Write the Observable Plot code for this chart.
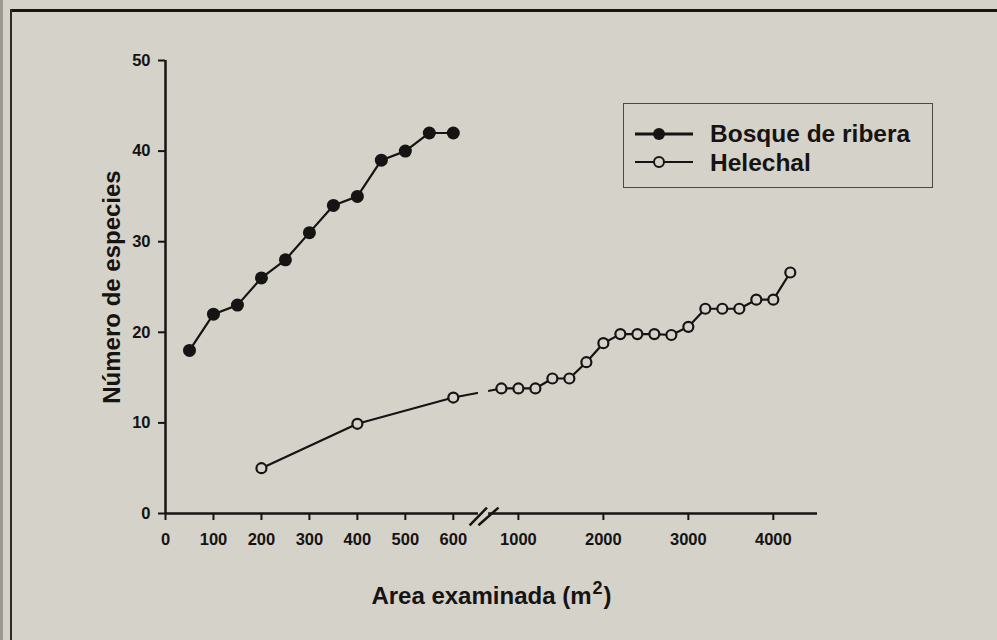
<!DOCTYPE html>
<html>
<head>
<meta charset="utf-8">
<script src="https://cdn.jsdelivr.net/npm/d3@7"></script>
<script src="https://cdn.jsdelivr.net/npm/@observablehq/plot@0.6"></script>
<style>
  html, body { margin: 0; padding: 0; background: #d5d2ca; }
  body { width: 997px; height: 640px; position: relative; overflow: hidden;
         font-family: "Liberation Sans", Arial, sans-serif; }
  #chart { position: absolute; left: 0; top: 0; }
  #frameTop { position: absolute; left: 10px; top: 9px; width: 987px; height: 3px; background: #161514; }
  #frameLeft { position: absolute; left: 10px; top: 9px; width: 2px; height: 631px; background: #2a2927; }
  #edge { position: absolute; left: 0; top: 0; width: 3px; height: 640px; background: #9c9990; }
  #legend { position: absolute; left: 623px; top: 103px; width: 310px; height: 85px;
            border: 1.5px solid #4a4946; box-sizing: border-box; }
</style>
</head>
<body>
<div id="edge"></div>
<div id="frameTop"></div>
<div id="frameLeft"></div>
<div id="chart"></div>
<div id="legend"></div>
<script>
// ---- data ----
const bosqueArea = [50, 100, 150, 200, 250, 300, 350, 400, 450, 500, 550, 600];
const bosqueSpecies = [18, 22, 23, 26, 28, 31, 34, 35, 39, 40, 42, 42];

const helechalArea = [200, 400, 600, 800, 1000, 1200, 1400, 1600, 1800, 2000, 2200,
  2400, 2600, 2800, 3000, 3200, 3400, 3600, 3800, 4000, 4200];
const helechalSpecies = [5, 9.9, 12.8, 13.8, 13.8, 13.8, 14.9, 14.9, 16.7, 18.8, 19.8,
  19.8, 19.8, 19.7, 20.6, 22.6, 22.6, 22.6, 23.6, 23.6, 26.6];

const xTicks = [0, 100, 200, 300, 400, 500, 600, 1000, 2000, 3000, 4000];
const yTicks = [0, 10, 20, 30, 40, 50];

const seriesNames = ["Bosque de ribera", "Helechal"];
const xTitleMain = "Area examinada (m";
const xTitleSup = "2";
const xTitleEnd = ")";
const yTitle = "Número de especies";

// axis break (in x units)
const breakStart = 647, breakEnd = 659;
const breakSlashes = [
  {x1: 634, y1: -1.3, x2: 657, y2: 0.65},
  {x1: 647, y1: -1.3, x2: 766, y2: 0.65}
];

// ---- build tables ----
const bosque = bosqueArea.map((a, i) => ({area: a, species: bosqueSpecies[i]}));
const helechal = helechalArea.map((a, i) => ({area: a, species: helechalSpecies[i]}));

const bg = "#d5d2ca";
const ink = "#151413";
const font = "'Liberation Sans', Arial, sans-serif";

const chart = Plot.plot({
  width: 997,
  height: 640,
  marginLeft: 165,
  marginRight: 180,
  marginTop: 60,
  marginBottom: 127,
  style: {background: "transparent", fontFamily: font,
          fontSize: "16.5px", fontWeight: "bold", color: ink},
  x: {type: "linear", domain: [0, 640, 660, 4520], range: [165, 472, 489, 817]},
  y: {domain: [0, 50]},
  marks: [
    // axes
    Plot.ruleY([0], {x1: 0, x2: breakStart, stroke: ink, strokeWidth: 2.5}),
    Plot.ruleY([0], {x1: breakEnd, x2: 4520, stroke: ink, strokeWidth: 2.5}),
    Plot.ruleX([0], {y1: 0, y2: 50, stroke: ink, strokeWidth: 2.5}),
    Plot.link(breakSlashes, {x1: "x1", y1: "y1", x2: "x2", y2: "y2", stroke: ink, strokeWidth: 2.5}),
    Plot.axisX(xTicks, {tickSize: 7, tickPadding: 13, tickFormat: d => String(d),
      strokeWidth: 2, stroke: ink, fill: ink, label: null, fontSize: 16.5}),
    Plot.axisY(yTicks, {tickSize: 7, tickPadding: 8, tickFormat: d => String(d),
      strokeWidth: 2, stroke: ink, fill: ink, label: null, fontSize: 16.5}),
    // titles
    Plot.text([xTitleMain], {frameAnchor: "bottom", dy: 90, dx: 100, lineAnchor: "bottom",
      textAnchor: "end", fontSize: 24, fontWeight: "bold", fill: ink}),
    Plot.text([xTitleSup], {frameAnchor: "bottom", dy: 80, dx: 101, lineAnchor: "bottom",
      textAnchor: "start", fontSize: 18, fontWeight: "bold", fill: ink}),
    Plot.text([xTitleEnd], {frameAnchor: "bottom", dy: 90, dx: 112, lineAnchor: "bottom",
      textAnchor: "start", fontSize: 24, fontWeight: "bold", fill: ink}),
    Plot.text([yTitle], {frameAnchor: "left", dx: -53, rotate: -90, textAnchor: "middle",
      fontSize: 24, fontWeight: "bold", fill: ink}),
    // data
    Plot.line(bosque, {x: "area", y: "species", stroke: ink, strokeWidth: 2.2}),
    Plot.line(helechal, {x: "area", y: "species", stroke: ink, strokeWidth: 2.2}),
    Plot.rect([0], {x1: breakStart, x2: breakEnd, y1: 1, y2: 49, fill: bg}),
    Plot.dot(bosque, {x: "area", y: "species", r: 6.5, fill: ink, stroke: "none"}),
    Plot.dot(helechal, {x: "area", y: "species", r: 5, fill: bg, stroke: ink, strokeWidth: 2.2})
  ]
});
document.getElementById("chart").appendChild(chart);

// ---- legend ----
const lg = d3.select("#legend").append("svg").attr("width", 308).attr("height", 83)
  .style("position", "absolute").style("left", "0px").style("top", "0px");
const rows = [
  {name: seriesNames[0], cy: 30, ty: 38, filled: true, lw: 3},
  {name: seriesNames[1], cy: 58, ty: 67, filled: false, lw: 2}
];
rows.forEach(r => {
  lg.append("line").attr("x1", 11).attr("x2", 69).attr("y1", r.cy).attr("y2", r.cy)
    .attr("stroke", ink).attr("stroke-width", r.lw);
  lg.append("circle").attr("cx", 35).attr("cy", r.cy).attr("r", r.filled ? 6 : 5)
    .attr("fill", r.filled ? ink : bg).attr("stroke", ink).attr("stroke-width", r.filled ? 0 : 2);
  lg.append("text").attr("x", 86).attr("y", r.ty).text(r.name)
    .attr("font-family", font)
    .attr("font-weight", "bold").attr("font-size", 24.5).attr("fill", ink);
});
</script>
</body>
</html>
